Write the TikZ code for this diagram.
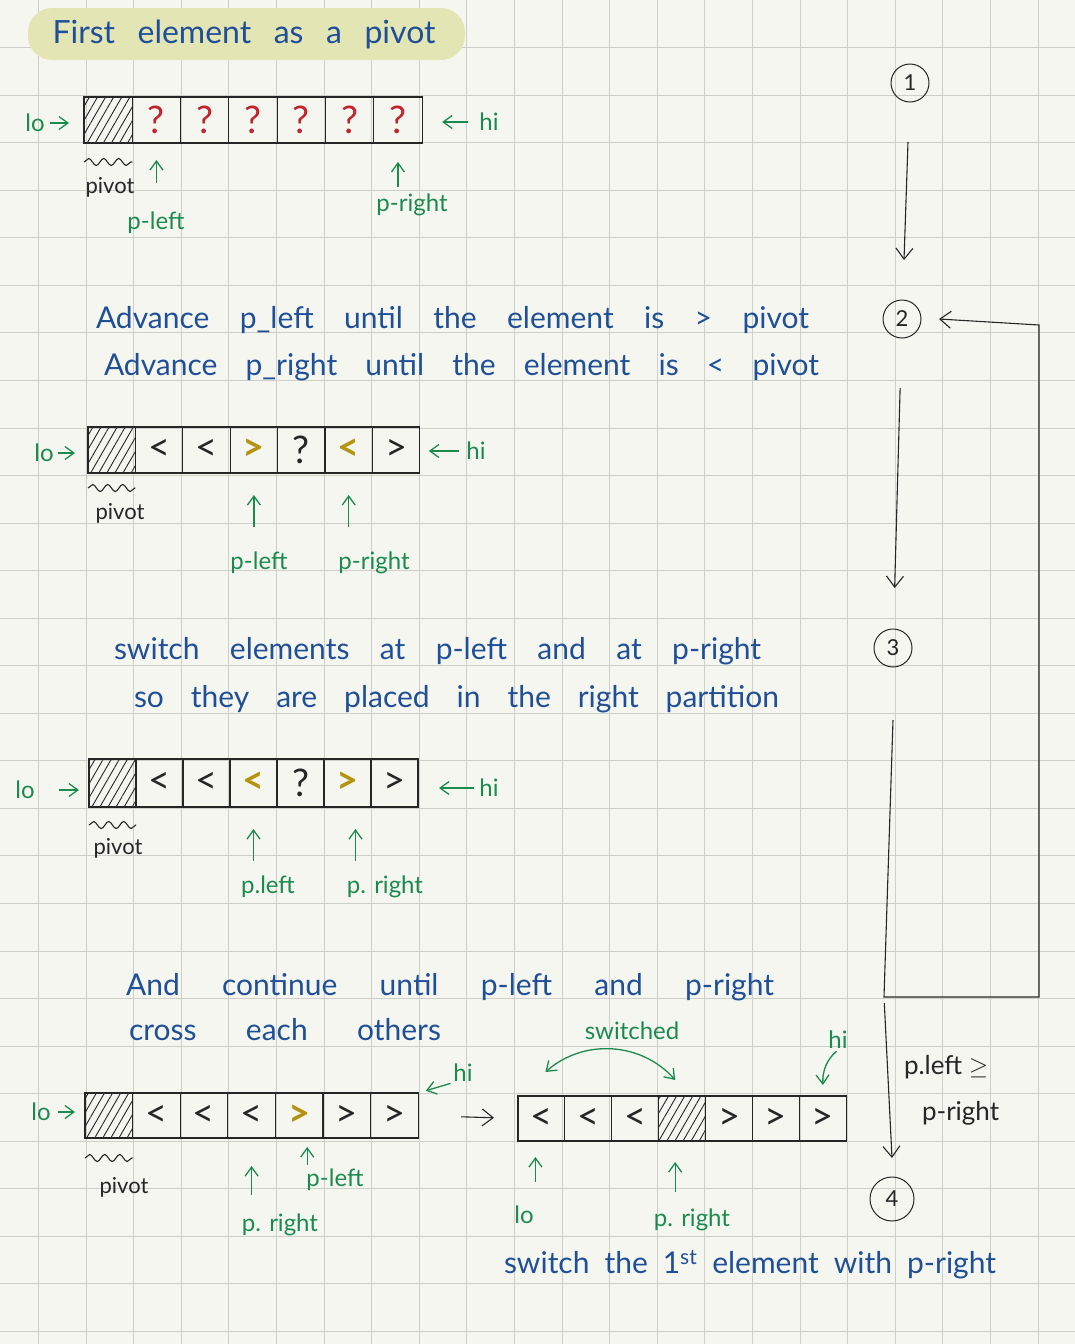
\documentclass[tikz,border=0pt]{standalone}
\usepackage{fontspec}
\setmainfont{Lato}
\usetikzlibrary{arrows.meta,patterns.meta,decorations.pathmorphing}

\definecolor{paper}{HTML}{F6F6F1}
\definecolor{gridgray}{HTML}{CFCFCA}
\definecolor{highlite}{HTML}{E4E5B4}
\definecolor{inkblue}{HTML}{1F4F97}
\definecolor{inkgreen}{HTML}{1B8A4F}
\definecolor{inkred}{HTML}{C1262F}
\definecolor{inkgold}{HTML}{B3930F}
\definecolor{inkblack}{HTML}{262626}

\newcommand{\handline}[2]{\makebox[#1][s]{#2}}
\newcommand{\qred}{\textcolor{inkred}{?}}
\newcommand{\lessgold}{\textcolor{inkgold}{\bfseries<}}
\newcommand{\moregold}{\textcolor{inkgold}{\bfseries>}}

\begin{document}
\begin{tikzpicture}[
    x=1pt, y=-1pt, % one unit = one pixel, y runs down
    line width=1.1pt,
    every node/.style={inner sep=1pt, outer sep=0pt, text=inkblack},
    gridline/.style={draw=gridgray, line width=0.9pt},
    cell/.style={draw=inkblack, anchor=north west, inner sep=0pt,
        font=\fontsize{38}{38}\selectfont},
    pivotcell/.style={pattern={Lines[angle=60,distance=7pt,line width=0.9pt]},
        pattern color=inkblack},
    squiggle/.style={draw=inkblack, decorate,
        decoration={snake, amplitude=3.5pt, segment length=15pt}},
    pivotlabel/.style={font=\fontsize{22}{22}\selectfont},
    greenlabel/.style={text=inkgreen, font=\fontsize{24}{24}\selectfont},
    greenptr/.style={draw=inkgreen, line width=1.3pt,
        -{Straight Barb[length=9pt,width=13pt]}},
    swaptips/.style={draw=inkgreen, line width=1.3pt,
        {Straight Barb[length=9pt,width=13pt]}-{Straight Barb[length=9pt,width=13pt]}},
    blueline/.style={text=inkblue, anchor=west, font=\fontsize{30}{30}\selectfont},
    stagecircle/.style={circle, draw=inkblack, line width=1pt, minimum size=38pt,
        font=\fontsize{22}{22}\selectfont},
    flow/.style={draw=inkblack, line width=1.1pt,
        -{Straight Barb[length=11pt,width=17pt]}}
]
  % paper
  \fill[paper] (0,0) rectangle (1075,1344);
  \useasboundingbox (0,0) rectangle (1075,1344);
  \foreach \i in {0,...,21}
    \draw[gridline] ({38.5+47.6*\i},0) -- ({38.5+47.6*\i},1344);
  \foreach \j in {1,...,28}
    \draw[gridline] (0,{47.55*\j}) -- (1075,{47.55*\j});

  % title
  \fill[highlite, rounded corners=24pt] (28,8) rectangle (465,60);
  \node[blueline, anchor=center, font=\fontsize{32}{32}\selectfont] (title) at (244,34)
    {\handline{383pt}{First element as a pivot}};

  % array 1
  \foreach \c [count=\i from 0] in {{},\qred,\qred,\qred,\qred,\qred,\qred}
    \node[cell, minimum width=48.3, minimum height=46] (a1-\i) at ({84+48.3*\i},97) {\c};
  \node[cell, pivotcell, minimum width=48.3, minimum height=46] at (a1-0.north west) {};
  \node[greenlabel] (lo1) at (35,123) {lo};
  \node[greenlabel] (hi1) at (489,122) {hi};
  \draw[greenptr, shorten <=4pt, shorten >=15pt] (lo1) -- (lo1 -| a1-0.west);
  \draw[greenptr, shorten <=21pt, shorten >=20pt] (hi1.center) -- (hi1 -| a1-6.east);
  \draw[squiggle] ([yshift=-19pt]a1-0.south west) -- ([yshift=-19pt]a1-0.south east);
  \node[pivotlabel] (pv1) at (110,187) {pivot};
  \node[greenlabel] (pl1) at (156,223) {p-left};
  \node[greenlabel] (pr1) at (412,205) {p-right};
  \draw[greenptr] ([yshift=-40pt]a1-1.south) -- ([yshift=-17pt]a1-1.south);
  \draw[greenptr] ([yshift=-44pt]a1-6.south) -- ([yshift=-19pt]a1-6.south);

  % step 2 text
  \node[blueline] (adv1) at (95,320)
    {\handline{713pt}{Advance p\_left until the element is > pivot}};
  \node[blueline] (adv2) at (103,367)
    {\handline{715pt}{Advance p\_right until the element is < pivot}};

  % array 2
  \foreach \c [count=\i from 0] in {{},<,<,\moregold,?,\lessgold,>}
    \node[cell, minimum width=47.4, minimum height=46] (a2-\i) at ({88+47.4*\i},427) {\c};
  \node[cell, pivotcell, minimum width=47.4, minimum height=46] at (a2-0.north west) {};
  \node[greenlabel] (lo2) at (44,453) {lo};
  \node[greenlabel] (hi2) at (476,451) {hi};
  \draw[greenptr, shorten <=3pt, shorten >=13pt] (lo2) -- (lo2 -| a2-0.west);
  \draw[greenptr, shorten <=17pt, shorten >=9pt] (hi2.center) -- (hi2 -| a2-6.east);
  \draw[squiggle] ([yshift=-15pt]a2-0.south west) -- ([yshift=-15pt]a2-0.south east);
  \node[pivotlabel] (pv2) at (120,513) {pivot};
  \node[greenlabel] (pl2) at (259,563) {p-left};
  \node[greenlabel] (pr2) at (374,563) {p-right};
  \draw[greenptr] ([yshift=-54pt]a2-3.south) -- ([yshift=-22pt]a2-3.south);
  \draw[greenptr] ([yshift=-54pt]a2-5.south) -- ([yshift=-22pt]a2-5.south);

  % step 3 text
  \node[blueline] (sw1) at (113,651)
    {\handline{647pt}{switch elements at p-left and at p-right}};
  \node[blueline] (sw2) at (133,699)
    {\handline{645pt}{so they are placed in the right partition}};

  % array 3
  \foreach \c [count=\i from 0] in {{},<,<,\lessgold,?,\moregold,>}
    \node[cell, minimum width=47, minimum height=48] (a3-\i) at ({89+47*\i},759) {\c};
  \node[cell, pivotcell, minimum width=47, minimum height=48] at (a3-0.north west) {};
  \node[greenlabel] (lo3) at (25,790) {lo};
  \node[greenlabel] (hi3) at (489,788) {hi};
  \draw[greenptr, shorten <=23pt, shorten >=10pt] (lo3) -- (lo3 -| a3-0.west);
  \draw[greenptr, shorten <=15pt, shorten >=21pt] (hi3.center) -- (hi3 -| a3-6.east);
  \draw[squiggle] ([yshift=-18pt]a3-0.south west) -- ([yshift=-18pt]a3-0.south east);
  \node[pivotlabel] (pv3) at (118,848) {pivot};
  \node[greenlabel] (pl3) at (268,887) {p.left};
  \node[greenlabel] (pr3) at (385,887) {p. right};
  \draw[greenptr] ([yshift=-54pt]a3-3.south) -- ([yshift=-22pt]a3-3.south);
  \draw[greenptr] ([yshift=-54pt,xshift=8pt]a3-5.south) -- ([yshift=-22pt,xshift=8pt]a3-5.south);

  % step 4 text
  \node[blueline] (and1) at (125,987)
    {\handline{648pt}{And continue until p-left and p-right}};
  \node[blueline] (and2) at (128,1030)
    {\handline{312pt}{cross each others}};

  % array 4
  \foreach \c [count=\i from 0] in {{},<,<,<,\moregold,>,>}
    \node[cell, minimum width=47.6, minimum height=45] (a4-\i) at ({85+47.6*\i},1093) {\c};
  \node[cell, pivotcell, minimum width=47.6, minimum height=45] at (a4-0.north west) {};
  \node[greenlabel] (lo4) at (41,1112) {lo};
  \node[greenlabel] (hi4) at (463,1073) {hi};
  \draw[greenptr, shorten <=6pt, shorten >=10pt] (lo4) -- (lo4 -| a4-0.west);
  \draw[greenptr, shorten <=2pt, shorten >=8pt] (hi4.south west) -- (a4-6.north east);
  \draw[squiggle] ([yshift=-20pt]a4-0.south west) -- ([yshift=-20pt]a4-0.south east);
  \node[pivotlabel] (pv4) at (124,1187) {pivot};
  \node[greenlabel] (pl4) at (335,1180) {p-left};
  \node[greenlabel] (pr4) at (280,1225) {p. right};
  \draw[greenptr] ([yshift=-27pt,xshift=8pt]a4-4.south) -- ([yshift=-9pt,xshift=8pt]a4-4.south);
  \draw[greenptr] ([yshift=-57pt]a4-3.south) -- ([yshift=-28pt]a4-3.south);

  % array 5, after the final switch
  \foreach \c [count=\i from 0] in {<,<,<,{},>,>,>}
    \node[cell, minimum width=46.9, minimum height=45] (a5-\i) at ({518+46.9*\i},1096) {\c};
  \node[cell, pivotcell, minimum width=46.9, minimum height=45] at (a5-3.north west) {};
  \draw[flow, shorten <=43pt, shorten >=24pt] (a4-6.east) -- (a5-0.west);
  \node[greenlabel] (hi5) at (838,1040) {hi};
  \draw[greenptr, shorten <=2pt] (hi5.south) to[bend right=25] ([yshift=11pt]a5-6.north);
  \node[greenlabel] (swd) at (632,1031) {switched};
  \draw[swaptips] ([yshift=24pt,xshift=4pt]a5-0.north) to[bend left=45] ([yshift=16pt,xshift=-7pt]a5-3.north);
  \node[greenlabel] (lo5) at (524,1215) {lo};
  \node[greenlabel] (pr5) at (692,1220) {p. right};
  \draw[greenptr] ([yshift=-41pt,xshift=-6pt]a5-0.south) -- ([yshift=-16pt,xshift=-6pt]a5-0.south);
  \draw[greenptr] ([yshift=-51pt,xshift=-7pt]a5-3.south) -- ([yshift=-21pt,xshift=-7pt]a5-3.south);
  \node[blueline] (swfin) at (503,1265)
    {\handline{492pt}{switch the 1\textsuperscript{st} element with p-right}};

  % stages on the right
  \node[stagecircle] (s1) at (910,83) {1};
  \node[stagecircle] (s2) at (902,319) {2};
  \node[stagecircle] (s3) at (893,648) {3};
  \node[stagecircle, minimum size=44pt] (s4) at (892,1199) {4};
  \coordinate (turn) at (884,997);
  \coordinate (back) at (1039,997);
  \coordinate (top) at (1039,325);
  \draw[flow, shorten <=40pt, shorten >=40pt] (s1) -- (s2);
  \draw[flow, shorten <=50pt, shorten >=41pt] (s2) -- (s3);
  \draw[flow] ([yshift=-53pt]s3.south) -- (turn) -- (back) -- (top) -- ([xshift=18pt]s2.east);
  \draw[flow, shorten <=6pt] (turn) -- ([yshift=19pt]s4.north);
  \node[anchor=west, align=left, font=\fontsize{26}{46}\selectfont] (cond) at (903,1090)
    {p.left $\geq$\\\hspace{18pt}p-right};
\end{tikzpicture}
\end{document}
